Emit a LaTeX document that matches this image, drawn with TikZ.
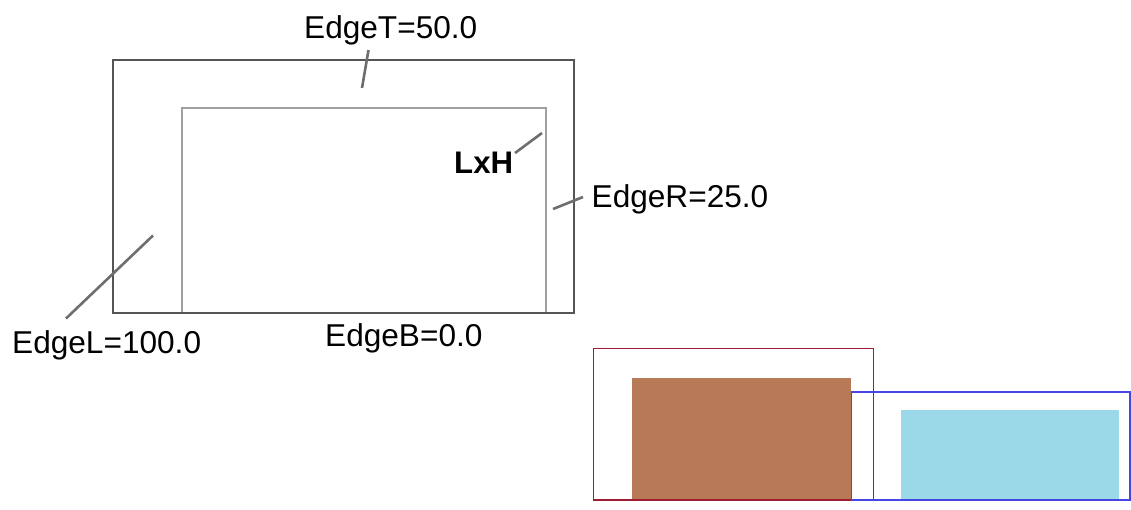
\documentclass[tikz,border=0pt]{standalone}
\usepackage{fontspec}
\setmainfont{Liberation Sans}
\definecolor{outerc}{HTML}{555555}
\definecolor{innerc}{HTML}{A0A0A0}
\definecolor{leaderc}{HTML}{6E6E6E}
\definecolor{redc}{HTML}{9E1B32}
\definecolor{bluec}{HTML}{4646E6}
\definecolor{brownc}{HTML}{B87A56}
\definecolor{cyanc}{HTML}{9BD8E8}
\tikzset{
  lbl/.style={anchor=base west, inner sep=0pt, font=\fontsize{31.6}{32}\selectfont},
  leader/.style={draw=leaderc, line width=2.6pt},
  outerbox/.style={draw=outerc, line width=2pt},
  innerbox/.style={draw=innerc, line width=1.5pt},
}
\begin{document}
\begin{tikzpicture}[x=1pt,y=-1pt]
\useasboundingbox (0,0) rectangle (1131,509);
% main frame
\draw[innerbox] (182,313) -- (182,108) -- (546,108) -- (546,313);
\draw[outerbox] (113,60) rectangle (573.5,313);
\draw[draw=outerc, line width=2.6pt] (182,313) -- (546,313);
% labels
\node[lbl] (et) at (304,38) {EdgeT=50.0};
\node[lbl] (er) at (591.5,207.5) {EdgeR=25.0};
\node[lbl] (el) at (12,353) {EdgeL=100.0};
\node[lbl] (eb) at (325,346.5) {EdgeB=0.0};
\node[lbl, font=\fontsize{31.2}{32}\selectfont\bfseries] (lh) at (454,173) {LxH};
% leader ends
\coordinate (etA) at (368.5,50);
\coordinate (etB) at (362,88);
\coordinate (erA) at (583,197);
\coordinate (erB) at (553,209);
\coordinate (elA) at (66,318.5);
\coordinate (elB) at (153,235.5);
\coordinate (lhA) at (515,153);
\coordinate (lhB) at (542,133);
\draw[leader] (etA) -- (etB);
\draw[leader] (erA) -- (erB);
\draw[leader] (elA) -- (elB);
\draw[leader] (lhA) -- (lhB);
% lower right
\fill[brownc] (632,377.5) rectangle (850.5,500);
\fill[cyanc] (900.5,410) rectangle (1119,500);
\draw[redc, line width=1.8pt] (593.5,348.5) rectangle (873.5,500.3);
\draw[bluec, line width=1.8pt] (851.5,392.3) rectangle (1130,500);
\end{tikzpicture}
\end{document}
